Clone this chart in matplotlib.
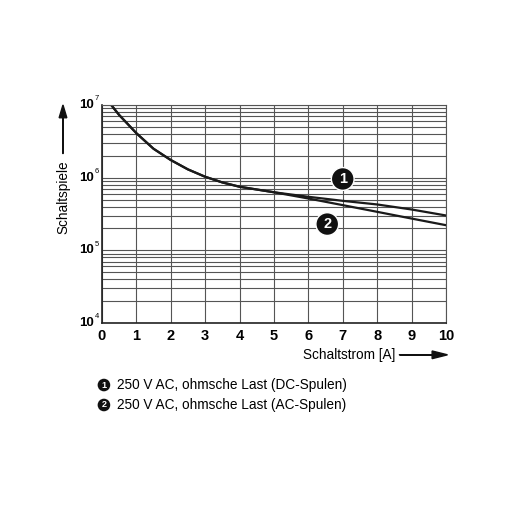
import matplotlib.pyplot as plt
from matplotlib.patches import FancyArrow

# data
current = [0.27, 0.5, 1, 1.5, 2, 2.5, 3, 3.5, 4, 5, 6, 7, 8, 9, 10]
cycles_dc = [1.0e7, 7.3e6, 4.1e6, 2.5e6, 1.75e6, 1.3e6, 1.03e6, 8.6e5, 7.5e5,
             6.3e5, 5.46e5, 4.8e5, 4.28e5, 3.65e5, 3.02e5]
cycles_ac = [1.0e7, 7.3e6, 4.1e6, 2.5e6, 1.75e6, 1.3e6, 1.03e6, 8.6e5, 7.5e5,
             6.3e5, 5.17e5, 4.19e5, 3.39e5, 2.74e5, 2.22e5]
ytick_vals = [1e4, 1e5, 1e6, 1e7]
ytick_exp = ['4', '5', '6', '7']
legend_texts = ['250 V AC, ohmsche Last (DC-Spulen)',
                '250 V AC, ohmsche Last (AC-Spulen)']

plt.rcParams['font.family'] = ['Liberation Sans', 'DejaVu Sans']

fig = plt.figure(figsize=(5.12, 5.12), dpi=100)
ax = fig.add_axes([0.199, 0.369, 0.672, 0.426])

ax.plot(current, cycles_dc, color='#1a1a1a', lw=1.6)
ax.plot(current, cycles_ac, color='#1a1a1a', lw=1.6)

ax.set_yscale('log')
ax.set_xlim(0, 10)
ax.set_ylim(1e4, 1e7)
ax.set_xticks(range(0, 11))
ax.set_yticks(ytick_vals)
ax.set_yticklabels([])
for v, e in zip(ytick_vals, ytick_exp):
    ax.text(-0.22, v, '10', transform=ax.transData, ha='right', va='center',
            fontsize=9.5, fontweight='bold')
    ax.text(-0.21, v * 1.22, e, transform=ax.transData, ha='left', va='center',
            fontsize=5.5)
ax.tick_params(axis='x', labelsize=10.5, length=0, pad=4)
ax.tick_params(axis='y', length=0)
ax.tick_params(axis='y', which='minor', length=0, labelleft=False)
for lab in ax.get_xticklabels():
    lab.set_fontweight('bold')
ax.grid(True, which='major', color='#555555', lw=0.8)
ax.grid(True, which='minor', axis='y', color='#555555', lw=0.8)
for s in ax.spines.values():
    s.set_color('#555555')
    s.set_linewidth(0.8)
ax.spines['left'].set_color('#222222')
ax.spines['bottom'].set_color('#222222')
ax.spines['left'].set_linewidth(1.2)
ax.spines['bottom'].set_linewidth(1.2)

# numbered markers
for num, (x, y) in [('1', (7.0, 9.6e5)), ('2', (6.55, 2.3e5))]:
    ax.text(x, y, num, ha='center', va='center', color='white', fontsize=10.5,
            fontweight='bold',
            bbox=dict(boxstyle='circle,pad=0.3', fc='#111111', ec='white', lw=1))

# axis labels with arrows
fig.text(0.123, 0.615, 'Schaltspiele', rotation=90, ha='center', va='center', fontsize=9.8)
fig.patches.append(FancyArrow(
    0.123, 0.70, 0, 0.095, width=0.0005, head_width=0.015, head_length=0.025,
    color='#111111', transform=fig.transFigure, length_includes_head=True))
fig.text(0.772, 0.307, 'Schaltstrom [A]', ha='right', va='center', fontsize=9.8)
fig.patches.append(FancyArrow(
    0.78, 0.307, 0.094, 0, width=0.0005, head_width=0.015, head_length=0.03,
    color='#111111', transform=fig.transFigure, length_includes_head=True))

# legend below
for i, txt in enumerate(legend_texts):
    yy = 0.248 - i * 0.039
    fig.text(0.203, yy, str(i + 1), ha='center', va='center', color='white', fontsize=6.5,
             fontweight='bold', bbox=dict(boxstyle='circle,pad=0.2', fc='#111111', ec='none'))
    fig.text(0.228, yy, txt, ha='left', va='center', fontsize=9.8)

fig.savefig('out.png', dpi=100)
